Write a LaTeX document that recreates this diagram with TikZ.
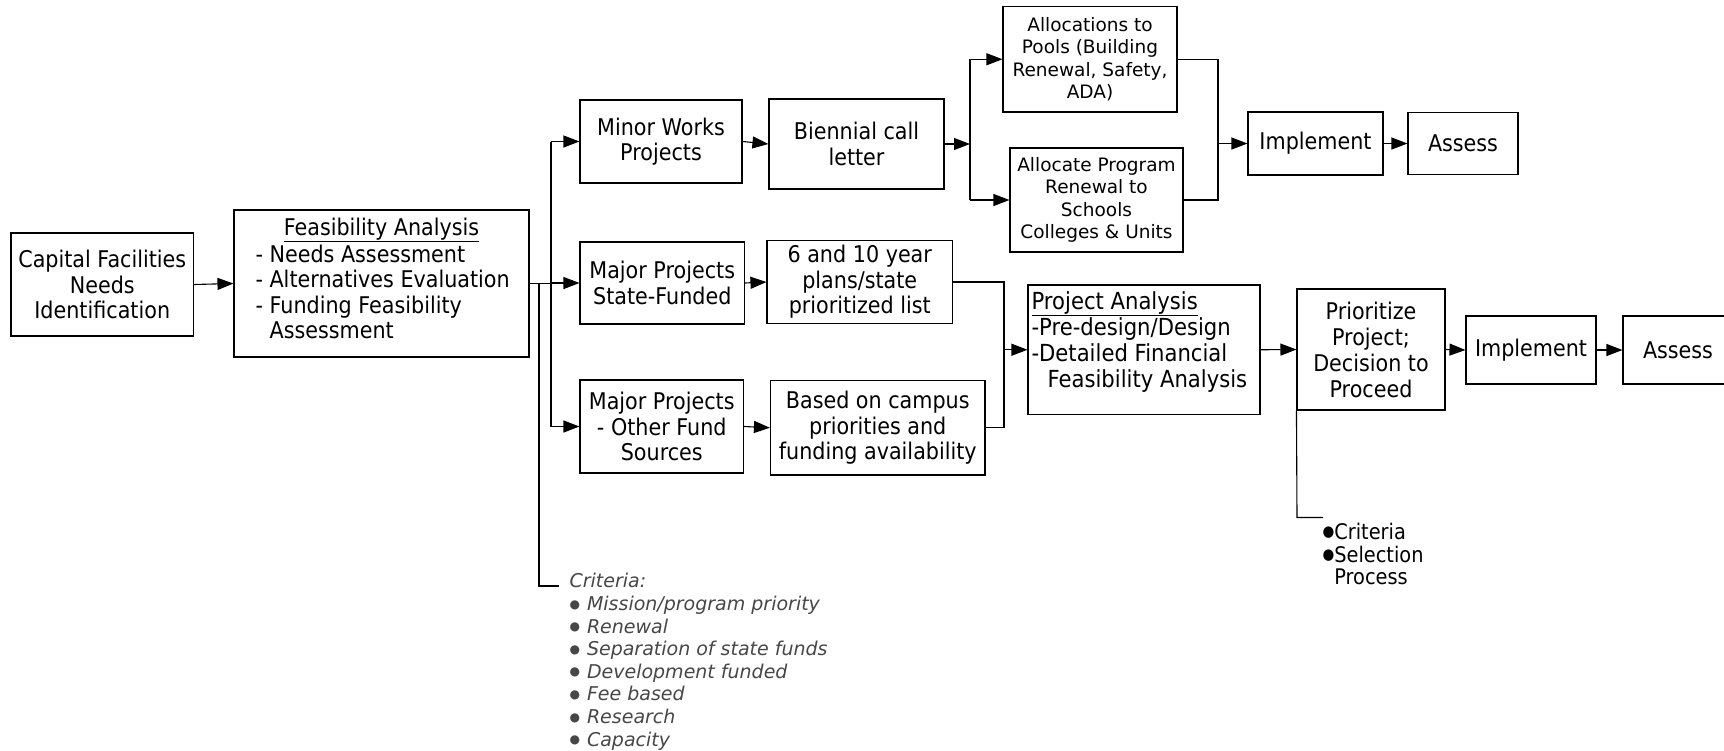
\documentclass[tikz,border=0pt]{standalone}
\usepackage{fontspec}
\setmainfont{DejaVu Sans}
\newfontfamily\boxfont[FakeStretch=0.9]{DejaVu Sans}
\usetikzlibrary{arrows.meta}

% bullets used in the two criteria lists
\newcommand\graybullet{\raisebox{2.5pt}{\upshape\fontsize{12pt}{12pt}\selectfont ●}\hspace{7pt}}
\newcommand\blackbullet{\raisebox{3pt}{\fontsize{15pt}{15pt}\selectfont ●}}

\begin{document}
\begin{tikzpicture}[x=1pt,y=-1pt,
  line width=1.1pt,
  wh/.style 2 args={minimum width=#1pt, minimum height=#2pt},
  box/.style={draw, inner sep=0pt, align=center,
    font=\boxfont\fontsize{23pt}{25.5pt}\selectfont},
  smallbox/.style={box, font=\fontsize{18.5pt}{22.5pt}\selectfont},
  txt/.style={inner sep=0pt, align=left,
    font=\boxfont\fontsize{23pt}{25.5pt}\selectfont},
  arr/.style={-{Triangle[length=16pt,width=12pt]}},
]
\fill[white] (0,0) rectangle (1724,750);
\useasboundingbox (0,0) rectangle (1724,750);

% ---- boxes ----
\node[box, wh={182.5}{103}] (cap) at (102.25,284.5) {Capital Facilities\\Needs\\Identification};

\node[box, wh={295}{147}] (fa) at (381.5,283.5) {};
\node[txt, anchor=base] (fatitle) at (381.5,235) {\underline{Feasibility Analysis}};
\node[txt, anchor=north west] (falist) at (255,244)
  {- Needs Assessment\\- Alternatives Evaluation\\- Funding Feasibility\\\hphantom{- }Assessment};

\node[box, wh={162}{83}] (mw) at (661,141.5) {Minor Works\\Projects};
\node[box, wh={175}{90}] (bc) at (856.5,144) {Biennial call\\letter};
\node[smallbox, wh={174}{105.5}] (ap) at (1090,59.25) {Allocations to\\Pools (Building\\Renewal, Safety,\\ADA)};
\node[smallbox, wh={173}{104}] (apr) at (1096.5,200) {Allocate Program\\Renewal to\\Schools\\Colleges \& Units};
\node[box, wh={135}{63}] (im1) at (1315.5,143.5) {Implement};
\node[box, wh={110}{62}] (as1) at (1463,143.5) {Assess};

\node[box, wh={164.5}{82}] (ms) at (662.25,283) {Major Projects\\State-Funded};
\node[box, wh={185.5}{83}] (sl) at (859.75,282) {6 and 10 year\\plans/state\\prioritized list};
\node[box, wh={163.5}{93}] (mo) at (661.75,426.5) {Major Projects\\- Other Fund\\Sources};
\node[box, wh={214.5}{94.5}] (bp) at (877.75,427.75) {Based on campus\\priorities and\\funding availability};

\node[box, wh={232}{129.5}] (pa) at (1144,349.75) {};
\node[txt, anchor=north west, font=\boxfont\fontsize{23.5pt}{26pt}\selectfont] (patext) at (1031,291)
  {\underline{Project Analysis}\\-Pre-design/Design\\-Detailed Financial\\\hspace*{16pt}Feasibility Analysis};

\node[box, wh={148}{121}, font=\boxfont\fontsize{23pt}{26pt}\selectfont] (pp) at (1371,349.5) {Prioritize\\Project;\\Decision to\\Proceed};
\node[box, wh={130}{68}] (im2) at (1531,350) {Implement};
\node[box, wh={110}{68}] (as2) at (1678,350) {Assess};

% ---- criteria lists ----
\node[anchor=north west, inner sep=0pt, align=left, text=black!72,
  font=\itshape\fontsize{19pt}{22.6pt}\selectfont] (crit) at (569,573)
  {Criteria:\\
   \graybullet Mission/program priority\\
   \graybullet Renewal\\
   \graybullet Separation of state funds\\
   \graybullet Development funded\\
   \graybullet Fee based\\
   \graybullet Research\\
   \graybullet Capacity};

\node[txt, anchor=north west, font=\boxfont\fontsize{21.5pt}{22.5pt}\selectfont] (pcrit) at (1322,523)
  {\blackbullet Criteria\\\blackbullet Selection\\\hphantom{\blackbullet}Process};

% ---- connectors ----
\draw[arr] (cap.east) -- (fa.west);

\coordinate (sp1) at (551,283.5);
\coordinate (stem) at (539,586);
\coordinate (stemend) at (559,586);
\draw (fa.east) -- (sp1);
\draw (sp1 |- mw.west) -- (sp1 |- mo.west);
\draw[arr] (sp1 |- mw.west) -- (mw.west);
\draw[arr] (sp1 |- ms.west) -- (ms.west);
\draw[arr] (sp1 |- mo.west) -- (mo.west);
\draw (fa.east -| stem) -- (stem) -- (stemend);

\draw[arr] (mw.east) -- (bc.west);
\coordinate (sp2) at (970,144);
\draw[arr] (bc.east) -- (sp2);
\draw (sp2 |- ap.west) -- (sp2 |- apr.west);
\draw[arr] (sp2 |- ap.west) -- (ap.west);
\draw[arr] (sp2 |- apr.west) -- (apr.west);
\coordinate (mg1) at (1218,143.5);
\draw (ap.east) -| (mg1);
\draw (apr.east) -| (mg1);
\draw[arr] (mg1) -- (im1.west);
\draw[arr] (im1.east) -- (as1.west);

\draw[arr] (ms.east) -- (sl.west);
\draw[arr] (mo.east) -- (bp.west);
\coordinate (mg2) at (1004,349.75);
\draw (sl.east) -| (mg2);
\draw (bp.east) -| (mg2);
\draw[arr] (mg2) -- (pa.west);
\draw[arr] (pa.east) -- (pp.west);
\draw[arr] (pp.east) -- (im2.west);
\draw[arr] (im2.east) -- (as2.west);

\coordinate (pleg) at (1297,517.5);
\coordinate (plegend) at (1323,517.5);
\draw (pp.south west) -- (pleg) -- (plegend);
\end{tikzpicture}
\end{document}
